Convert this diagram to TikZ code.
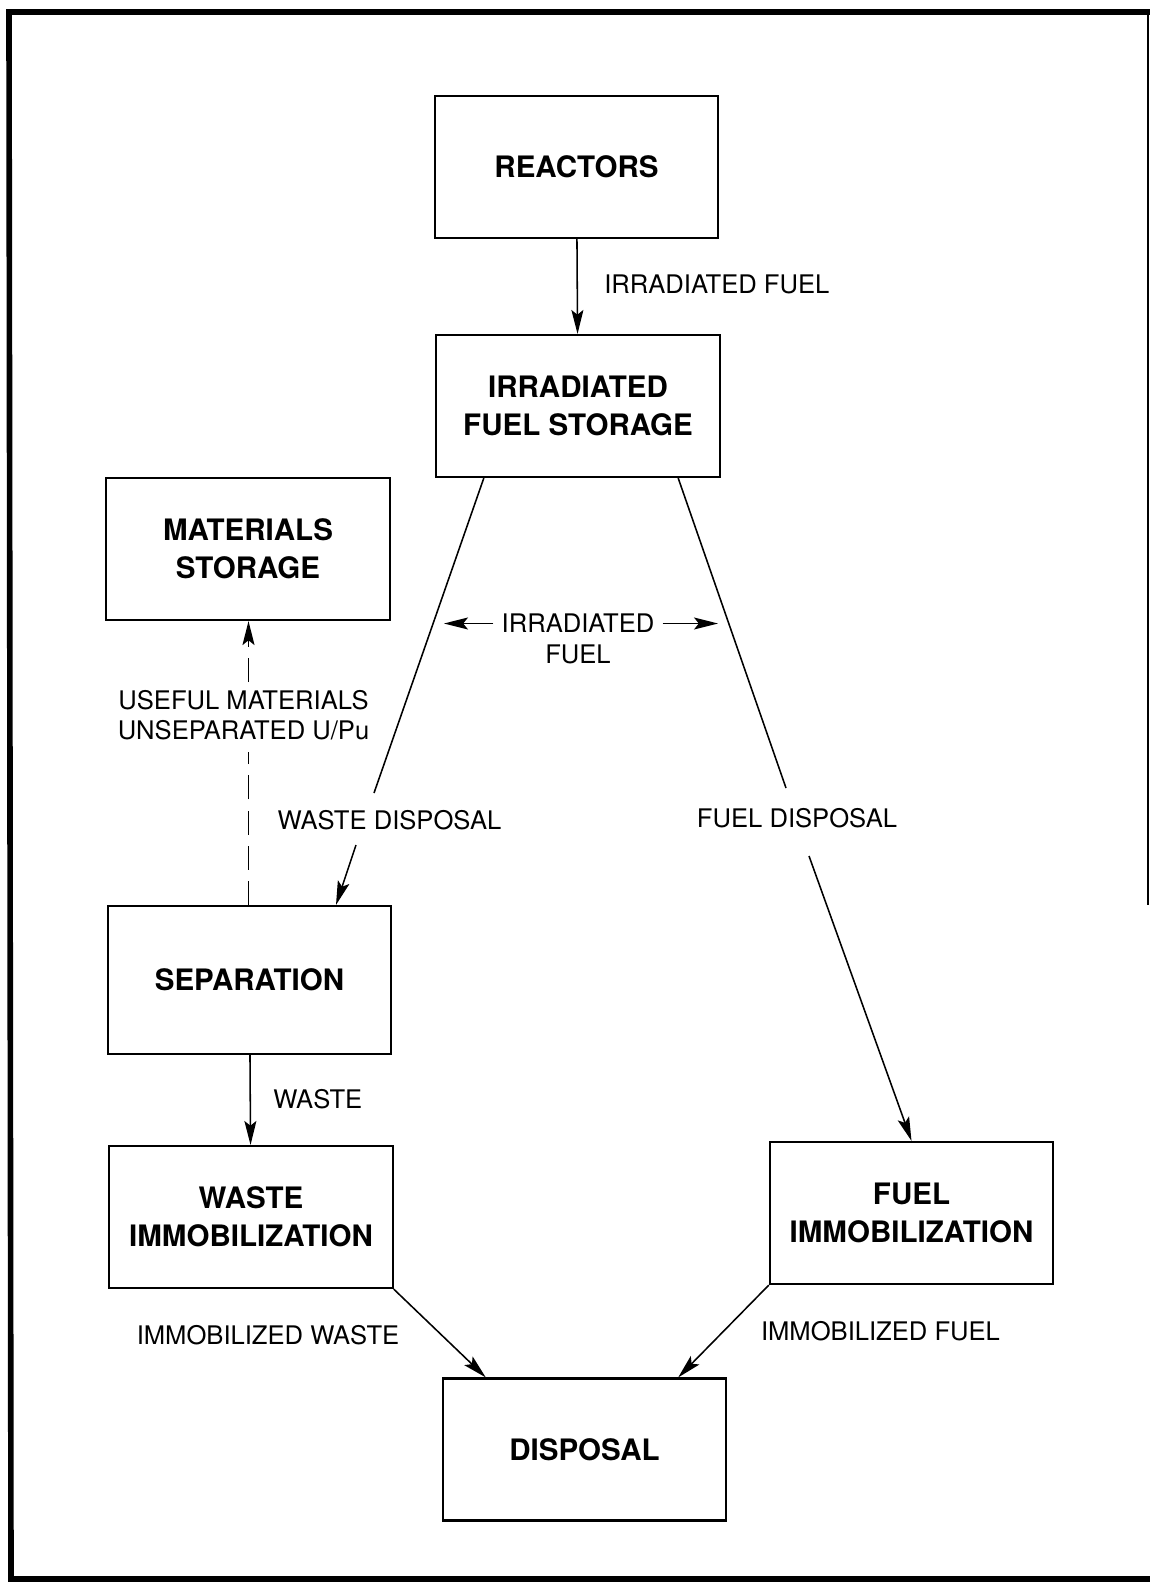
\documentclass[tikz,border=0pt]{standalone}
\usepackage{fontspec}
\setmainfont{TeX Gyre Heros}
\usetikzlibrary{arrows.meta,calc}

\tikzset{
  box/.style={draw, line width=1.5pt, minimum width=7.08cm, minimum height=3.55cm,
    align=center, font=\fontsize{21}{27}\selectfont\bfseries},
  lbl/.style={font=\fontsize{18.2}{21}\selectfont, align=center, inner sep=0pt},
  link/.style={line width=1.1pt},
  flow/.style={line width=1.1pt, -{Stealth[length=0.6cm, width=0.3cm, inset=0.12cm]}},
}

\begin{document}
\begin{tikzpicture}[x=0.025cm, y=-0.025cm]
        \useasboundingbox (0,0) rectangle (1150,1584);
        % 0. frame
        \draw[line width=4pt] (1150,12) -- (9,12) -- (11,1579) -- (1150,1579);
        \draw[line width=1.5pt] (1148,12) -- (1148,905);

        % 1. boxes
        \node[box] (reactors) at (576.5,167) {REACTORS};
        \node[box] (storage) at (578,406) {IRRADIATED\\FUEL STORAGE};
        \node[box] (materials) at (248,549) {MATERIALS\\STORAGE};
        \node[box, minimum height=3.7cm] (separation) at (249.5,980) {SEPARATION};
        \node[box] (wasteimm) at (251,1217) {WASTE\\IMMOBILIZATION};
        \node[box] (fuelimm) at (911.5,1213) {FUEL\\IMMOBILIZATION};
        \node[box] (disposal) at (584.5,1449.5) {DISPOSAL};

        % 2. labels
        \node[lbl, anchor=west] (irrfuel) at (604,284) {IRRADIATED FUEL};
        \node[lbl, inner xsep=0.2cm] (midtop) at (578,623.5) {IRRADIATED};
        \node[lbl] (midbot) at (578,654) {FUEL};
        \node[lbl] (useful) at (243.5,715) {USEFUL MATERIALS\\UNSEPARATED U/Pu};
        \node[lbl] (wastedisp) at (389.5,820.5) {WASTE DISPOSAL};
        \node[lbl] (fueldisp) at (797,818.5) {FUEL DISPOSAL};
        \node[lbl, anchor=west] (waste) at (273,1099) {WASTE};
        \node[lbl] (immwaste) at (268,1335) {IMMOBILIZED WASTE};
        \node[lbl] (immfuel) at (880.5,1331) {IMMOBILIZED FUEL};

        % 3. connectors
        \coordinate (irrleft) at (444,623.5);
        \coordinate (irrright) at (718,623.5);
        \coordinate (wasteA) at (374,793);
        \coordinate (wasteB) at (356,845);
        \coordinate (fuelA) at (786,788);
        \coordinate (fuelB) at (809,856);
        \coordinate (usefulbot) at (248.5,752);
        \coordinate (usefultop) at (248.5,682);

        \draw[flow] (reactors) -- (storage);
        \draw[flow] (midtop.west) -- (irrleft);
        \draw[flow] (midtop.east) -- (irrright);
        \draw[link] ($(storage.south west)+(48.5,0)$) -- (wasteA);
        \draw[flow] (wasteB) -- ($(separation.north)+(86.5,0)$);
        \draw[link] ($(storage.south east)+(-42.5,0)$) -- (fuelA);
        \draw[flow] (fuelB) -- (fuelimm.north);
        \draw[link, dashed, dash pattern=on 0.6cm off 0.28cm] (usefulbot |- separation.north) -- (usefulbot);
        \draw[flow, dash pattern=on 0.6cm off 0.28cm] (usefultop) -- (usefultop |- materials.south);
        \draw[flow] (separation) -- (wasteimm);
        \draw[flow] (wasteimm.south east) -- ($(disposal.north west)+(44,0)$);
        \draw[flow] (fuelimm.south west) -- ($(disposal.north east)+(-49,0)$);
\end{tikzpicture}
\end{document}
